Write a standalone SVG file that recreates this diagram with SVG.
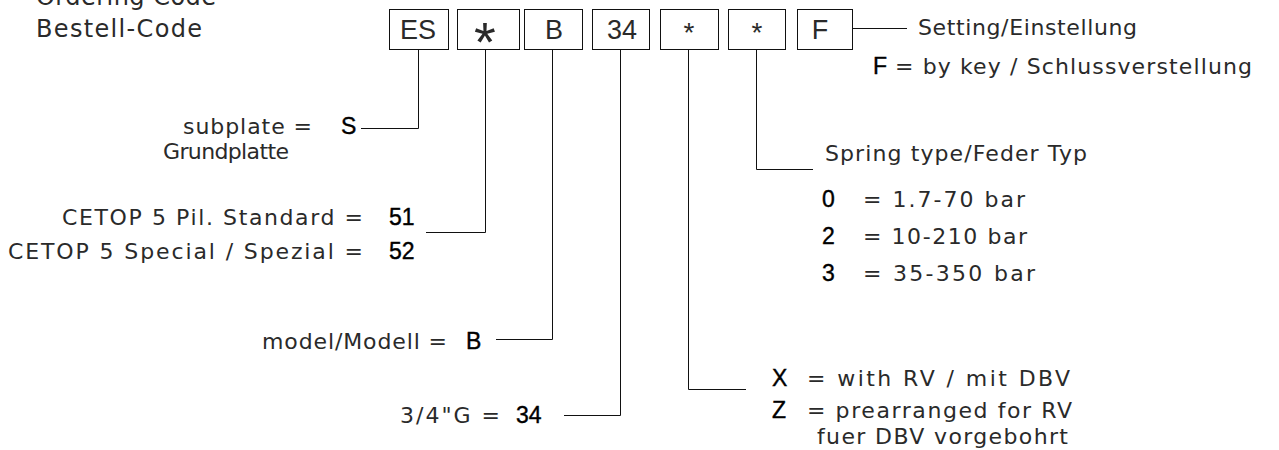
<svg xmlns="http://www.w3.org/2000/svg" width="1279" height="450" viewBox="0 0 1279 450">
<style>
text{font-family:"DejaVu Sans","Liberation Sans",sans-serif;fill:#2a2a2a}
.lbl{font-size:22px}
.val{font-family:"Liberation Sans",Arial,sans-serif;font-size:23px;fill:#000;stroke:#000;stroke-width:0.4}
.hdr{font-size:24px}
.bx{font-family:"Liberation Sans",Arial,sans-serif;font-size:27px;text-anchor:middle}
.box{fill:#fff;stroke:#111;stroke-width:1}
.con{fill:none;stroke:#111;stroke-width:1}
</style>
<rect width="1279" height="450" fill="#fff"/>
<g id="title">
<text class="hdr" x="36" y="5" textLength="180" lengthAdjust="spacing">Ordering Code</text>
<text class="hdr" x="36" y="37" textLength="166" lengthAdjust="spacing">Bestell-Code</text>
</g>
<g id="box-es"><rect class="box" x="389.5" y="9.5" width="59" height="40"/><text class="bx" x="418" y="39">ES</text></g>
<g id="box-star1"><rect class="box" x="457.5" y="9.5" width="62" height="40"/><text class="bx" x="485" y="61" style="font-size:56px">*</text></g>
<g id="box-b"><rect class="box" x="524.5" y="9.5" width="58" height="40"/><text class="bx" x="554" y="39">B</text></g>
<g id="box-34"><rect class="box" x="592.5" y="9.5" width="57" height="40"/><text class="bx" x="622" y="39">34</text></g>
<g id="box-star2"><rect class="box" x="660.5" y="9.5" width="58" height="40"/><text class="bx" x="689" y="42" style="font-size:28px">*</text></g>
<g id="box-star3"><rect class="box" x="728.5" y="9.5" width="57" height="40"/><text class="bx" x="757" y="42" style="font-size:28px">*</text></g>
<g id="box-f"><rect class="box" x="797.5" y="9.5" width="55" height="40"/><text class="bx" x="820" y="39">F</text></g>
<g id="connectors">
<path class="con" d="M418.5 49.5V128.5H361"/>
<path class="con" d="M485.5 49.5V232.5H426"/>
<path class="con" d="M552.5 49.5V339.5H496"/>
<path class="con" d="M620.5 49.5V415.5H564"/>
<path class="con" d="M688.5 49.5V389.5H746"/>
<path class="con" d="M756.5 49.5V169.5H813"/>
<path class="con" d="M852.5 28.5H907"/>
</g>
<g id="setting">
<text class="lbl" x="918" y="35" textLength="219" lengthAdjust="spacing">Setting/Einstellung</text>
<text class="val" x="873" y="74">F</text>
<text class="lbl" x="895" y="74" textLength="357" lengthAdjust="spacing">= by key / Schlussverstellung</text>
</g>
<g id="subplate">
<text class="lbl" x="183" y="134" textLength="129" lengthAdjust="spacing">subplate =</text>
<text class="val" x="341" y="134">S</text>
<text class="lbl" x="163" y="159" textLength="126" lengthAdjust="spacing">Grundplatte</text>
</g>
<g id="cetop">
<text class="lbl" x="62" y="225" textLength="301" lengthAdjust="spacing">CETOP 5 Pil. Standard =</text>
<text class="val" x="389" y="225">51</text>
<text class="lbl" x="8" y="259" textLength="355" lengthAdjust="spacing">CETOP 5 Special / Spezial =</text>
<text class="val" x="389" y="259">52</text>
</g>
<g id="model">
<text class="lbl" x="262" y="349" textLength="185" lengthAdjust="spacing">model/Modell =</text>
<text class="val" x="466" y="349">B</text>
</g>
<g id="size">
<text class="lbl" x="400" y="423" textLength="100" lengthAdjust="spacing">3/4"G =</text>
<text class="val" x="516" y="423">34</text>
</g>
<g id="spring">
<text class="lbl" x="825" y="161" textLength="262" lengthAdjust="spacing">Spring type/Feder Typ</text>
<text class="val" x="822" y="207">0</text>
<text class="lbl" x="863" y="207" textLength="162" lengthAdjust="spacing">= 1.7-70 bar</text>
<text class="val" x="822" y="244">2</text>
<text class="lbl" x="863" y="244" textLength="164" lengthAdjust="spacing">= 10-210 bar</text>
<text class="val" x="822" y="281">3</text>
<text class="lbl" x="863" y="281" textLength="172" lengthAdjust="spacing">= 35-350 bar</text>
</g>
<g id="valve">
<text class="val" x="772" y="386">X</text>
<text class="lbl" x="807" y="386" textLength="263" lengthAdjust="spacing">= with RV / mit DBV</text>
<text class="val" x="772" y="418">Z</text>
<text class="lbl" x="807" y="418" textLength="265" lengthAdjust="spacing">= prearranged for RV</text>
<text class="lbl" x="817" y="444" textLength="251" lengthAdjust="spacing">fuer DBV vorgebohrt</text>
</g>
</svg>
